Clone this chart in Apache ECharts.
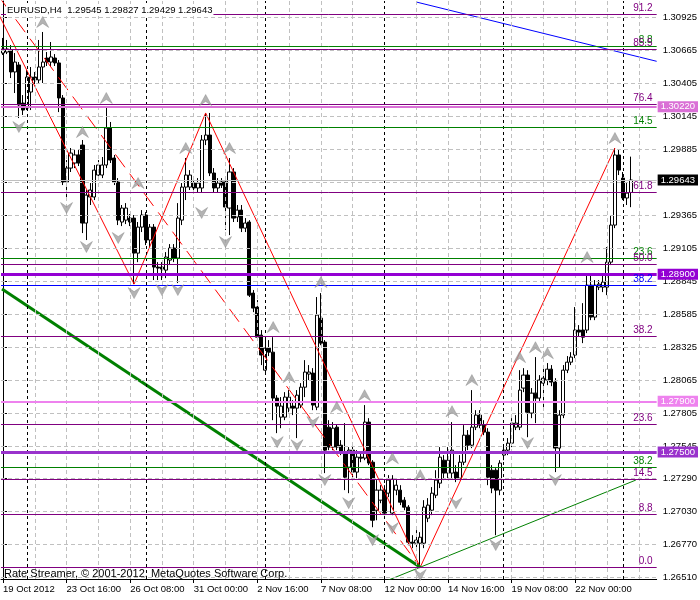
<!DOCTYPE html>
<html><head><meta charset="utf-8">
<script src="https://cdn.jsdelivr.net/npm/echarts@6/dist/echarts.min.js"></script>
<style>html,body{margin:0;padding:0;background:#fff}#c{width:700px;height:600px}</style>
</head><body><div id="c"></div>
<script>
const symbolName = 'EURUSD', timeframe = 'H4';
const open = [1.30643,1.30651,1.30667,1.30494,1.30549,1.30249,1.30210,1.30336,1.30454,1.30431,
1.30533,1.30604,1.30572,1.30604,1.30565,1.30289,1.29627,1.29737,1.29777,1.29840,
1.29918,1.29304,1.29509,1.29509,1.29682,1.29682,1.29761,1.30052,1.29816,1.29627,
1.29312,1.29327,1.29343,1.29343,1.29067,1.29272,1.29367,1.29170,1.29272,1.28957,
1.28957,1.28933,1.29012,1.29107,1.29028,1.29327,1.29587,1.29587,1.29619,1.29580,
1.29580,1.29958,1.29997,1.29698,1.29580,1.29627,1.29627,1.29422,1.29706,1.29351,
1.29406,1.29264,1.29312,1.28752,1.28642,1.28421,1.28145,1.28319,1.28287,1.27925,
1.27775,1.27775,1.27846,1.27862,1.27846,1.27870,1.28011,1.28114,1.28122,1.27854,
1.28555,1.28366,1.27696,1.27539,1.27696,1.27554,1.27499,1.27381,1.27515,1.27342,
1.27460,1.27452,1.27736,1.27420,1.27042,1.27121,1.27200,1.27176,1.27019,1.27200,
1.27200,1.27121,1.27066,1.26790,1.26782,1.26782,1.26782,1.26979,1.27042,1.27160,
1.27255,1.27436,1.27334,1.27334,1.27342,1.27294,1.27420,1.27633,1.27554,1.27696,
1.27791,1.27712,1.27657,1.27357,1.27357,1.27200,1.27476,1.27515,1.27570,1.27696,
1.27696,1.28004,1.28106,1.27807,1.27964,1.27925,1.28043,1.28067,1.28153,1.28051,
1.27531,1.27791,1.28145,1.28208,1.28264,1.28461,1.28461,1.28461,1.28815,1.28563,
1.28799,1.28799,1.28799,1.28996,1.29288,1.29840,1.29658,1.29501,1.29545];
const close = [1.30675,1.30675,1.30494,1.30572,1.30234,1.30194,1.30454,1.30454,1.30431,1.30533,
1.30572,1.30572,1.30612,1.30565,1.30289,1.29627,1.29737,1.29855,1.29840,1.29777,
1.29304,1.29524,1.29564,1.29721,1.29761,1.29761,1.30052,1.29800,1.29627,1.29327,
1.29422,1.29422,1.29312,1.29067,1.29272,1.29367,1.29170,1.29272,1.28957,1.28949,
1.28941,1.29036,1.29107,1.29028,1.29343,1.29587,1.29682,1.29682,1.29580,1.29619,
1.29958,1.29997,1.29698,1.29580,1.29619,1.29603,1.29430,1.29706,1.29343,1.29406,
1.29264,1.29304,1.28736,1.28634,1.28405,1.28264,1.28319,1.28287,1.27925,1.27862,
1.27862,1.27933,1.27933,1.27846,1.27948,1.28011,1.28130,1.28130,1.27870,1.28579,
1.28358,1.27515,1.27539,1.27688,1.27539,1.27499,1.27302,1.27515,1.27342,1.27460,
1.27452,1.27736,1.27413,1.26963,1.27200,1.27200,1.27019,1.27279,1.27286,1.27239,
1.27105,1.27066,1.26790,1.26782,1.26806,1.26829,1.27066,1.27082,1.27176,1.27279,
1.27460,1.27334,1.27436,1.27515,1.27294,1.27420,1.27633,1.27554,1.27696,1.27791,
1.27712,1.27657,1.27302,1.27216,1.27200,1.27413,1.27515,1.27570,1.27728,1.27728,
1.27988,1.28106,1.27814,1.27964,1.27925,1.28067,1.28082,1.28153,1.28051,1.27531,
1.27791,1.28145,1.28208,1.28248,1.28461,1.28445,1.28405,1.28815,1.28563,1.28815,
1.28823,1.28839,1.28996,1.29288,1.29840,1.29721,1.29501,1.29540,1.29643];
const high = [1.30762,1.30746,1.30706,1.30643,1.30572,1.30312,1.30509,1.30533,1.30494,1.30746,
1.30809,1.30651,1.30730,1.30635,1.30588,1.30312,1.29800,1.29895,1.29879,1.29879,
1.29958,1.29564,1.29619,1.29761,1.29800,1.29824,1.30210,1.30100,1.29840,1.29658,
1.29446,1.29461,1.29375,1.29367,1.29312,1.29406,1.29390,1.29296,1.29296,1.28996,
1.28996,1.29075,1.29138,1.29138,1.29461,1.29619,1.29816,1.29721,1.29643,1.29658,
1.29997,1.30171,1.30171,1.29737,1.29658,1.29658,1.29658,1.29816,1.29737,1.29446,
1.29446,1.29343,1.29327,1.28776,1.28697,1.28461,1.28405,1.28382,1.28405,1.27948,
1.27933,1.27972,1.27988,1.27909,1.27988,1.28043,1.28224,1.28185,1.28161,1.28721,
1.28752,1.28382,1.27751,1.27736,1.27720,1.27594,1.27728,1.27539,1.27554,1.27515,
1.27499,1.27870,1.27767,1.27436,1.27279,1.27239,1.27239,1.27318,1.27318,1.27294,
1.27239,1.27145,1.27082,1.26845,1.26885,1.26869,1.27121,1.27137,1.27224,1.27357,
1.27539,1.27476,1.27539,1.27736,1.27397,1.27476,1.27712,1.27673,1.27988,1.27830,
1.27830,1.27751,1.27688,1.27397,1.27373,1.27436,1.27554,1.27610,1.27767,1.27791,
1.28145,1.28161,1.28145,1.28004,1.28248,1.28106,1.28185,1.28201,1.28185,1.28082,
1.27830,1.28185,1.28256,1.28287,1.28642,1.28500,1.28673,1.28894,1.28910,1.28855,
1.28855,1.28910,1.29115,1.29367,1.29895,1.29879,1.29706,1.29619,1.29827];
const low = [1.30628,1.30635,1.30446,1.30328,1.30131,1.30155,1.30194,1.30194,1.30399,1.30407,
1.30407,1.30541,1.30533,1.30541,1.30178,1.29603,1.29485,1.29706,1.29737,1.29753,
1.29225,1.29170,1.29446,1.29485,1.29658,1.29658,1.29737,1.29777,1.29603,1.29288,
1.29280,1.29296,1.29280,1.28823,1.28996,1.29233,1.29130,1.29115,1.28855,1.28855,
1.28855,1.28870,1.28973,1.28996,1.28831,1.29288,1.29485,1.29564,1.29548,1.29548,
1.29548,1.29918,1.29674,1.29548,1.29548,1.29580,1.29249,1.29209,1.29312,1.29312,
1.29233,1.29233,1.28721,1.28602,1.28382,1.28185,1.28130,1.28256,1.27751,1.27649,
1.27688,1.27751,1.27814,1.27791,1.27610,1.27846,1.27933,1.28067,1.27830,1.27830,
1.28342,1.27334,1.27515,1.27515,1.27515,1.27476,1.27200,1.27176,1.27279,1.27294,
1.27420,1.27436,1.27397,1.26908,1.26963,1.27097,1.27003,1.27145,1.27003,1.27160,
1.27082,1.27042,1.26766,1.26743,1.26727,1.26593,1.26743,1.26948,1.27003,1.27137,
1.27216,1.27279,1.27294,1.27294,1.27263,1.27279,1.27397,1.27515,1.27531,1.27673,
1.27688,1.27633,1.27239,1.27176,1.26845,1.27160,1.27436,1.27476,1.27539,1.27673,
1.27673,1.27972,1.27617,1.27767,1.27728,1.27893,1.27830,1.28027,1.28019,1.27342,
1.27381,1.27767,1.28122,1.28185,1.28240,1.28413,1.28358,1.28437,1.28539,1.28539,
1.28776,1.28760,1.28736,1.28973,1.29264,1.29682,1.29485,1.29446,1.29429];

const slotCount = 165;
const xLabelIdx = [0,16,32,48,64,80,96,112,128,144];
const xLabelText = ['19 Oct 2012','23 Oct 16:00','26 Oct 08:00','31 Oct 00:00','2 Nov 16:00','7 Nov 08:00','12 Nov 00:00','14 Nov 16:00','19 Nov 08:00','22 Nov 00:00'];
const yTicks = [1.30925,1.30665,1.30405,1.30145,1.29885,1.29625,1.29365,1.29105,1.28845,1.28585,1.28325,1.28065,1.27805,1.27545,1.27290,1.27030,1.26770,1.26510];
const gridIdx = [8,16,24,32,40,48,56,64,72,80,88,104,112,120,128,136,144,152,160];
const weekIdx = [6,36,66,96,126,156];

const zigzagIdx = [-1,33,51,105,154];
const zigzagVal = [1.30943,1.28823,1.30171,1.26593,1.29895];
const dashIdx = [-0.4,105];
const dashVal = [1.31061,1.26593];
const blueIdx = [104,164.5];
const blueVal = [1.31045,1.30578];
const greenThickIdx = [-0.25,105];
const greenThickVal = [1.28784,1.26593];
const greenThinIdx = [96,159.25];
const greenThinVal = [1.26479,1.27279];

const fracUpIdx = [10,20,26,34,46,51,57,68,72,80,84,91,98,105,113,118,130,134,137,147,154];
const fracUpVal = [1.30888,1.30021,1.30289,1.29619,1.29895,1.30273,1.29895,1.28485,1.28090,1.28839,1.27854,1.27948,1.27452,1.27318,1.27822,1.28067,1.28248,1.28326,1.28279,1.29036,1.29974];
const fracDnIdx = [4,16,21,29,33,40,44,50,56,69,74,78,81,87,93,98,105,114,124,132,139];
const fracDnVal = [1.30060,1.29422,1.29115,1.29186,1.28752,1.28776,1.28776,1.29383,1.29154,1.27578,1.27554,1.27736,1.27279,1.27097,1.26806,1.26901,1.26532,1.27097,1.26767,1.27570,1.27279];

const purpleLevels = [1.30949,1.30675,1.30240,1.29546,1.28982,1.28412,1.27719,1.27282,1.27010,1.26594];
const purpleLabels = ['91.2','85.5','76.4','61.8','50.0','38.2','23.6','14.5','8.8','0.0'];
const greenLevels = [1.30700,1.30058,1.29026,1.27380];
const greenLabels = ['8.8','14.5','23.6','38.2'];
const blueLevels = [1.28814];
const blueLabels = ['38.2'];
const priceLines = [1.30220,1.28900,1.27900,1.27500];
const priceLineColors = ['#DA70D6','#9400D3','#EE82EE','#9932CC'];
const priceLineWidths = [2,3,2,3];
const bidPrice = close[close.length-1];

const FONT = 'Liberation Sans';
const cats = Array.from({length: slotCount}, (_, i) => String(i));
const candleData = open.map((o, i) => [o, close[i], low[i], high[i]]);
const pts = (a, b) => a.map((x, k) => [x, b[k]]);

const fibLabel = (color) => ({show: true, position: 'insideEndTop', formatter: '{b}', color, fontSize: 10, fontFamily: FONT, distance: [4, 1]});
const levelData = [];
greenLevels.forEach((v, k) => levelData.push({yAxis: v, name: greenLabels[k], lineStyle: {color: '#008000', width: 1, type: 'solid'}, label: fibLabel('#008000')}));
blueLevels.forEach((v, k) => levelData.push({yAxis: v, name: blueLabels[k], lineStyle: {color: '#0000FF', width: 1, type: 'solid'}, label: fibLabel('#0000FF')}));
purpleLevels.forEach((v, k) => levelData.push({yAxis: v, name: purpleLabels[k], lineStyle: {color: '#800080', width: 1, type: 'solid'}, label: fibLabel('#800080')}));
priceLines.forEach((v, k) => levelData.push({yAxis: v, name: v.toFixed(5), lineStyle: {color: priceLineColors[k], width: priceLineWidths[k], type: 'solid'}, label: {show: true, position: 'end', formatter: '{b}', color: '#fff', backgroundColor: priceLineColors[k], padding: [1, 3, 0, 3], fontSize: 9.5, lineHeight: 10, fontFamily: FONT, distance: 1}}));
levelData.push({yAxis: bidPrice, name: bidPrice.toFixed(5), lineStyle: {color: '#C0C0C0', width: 1, type: 'solid'}, label: {show: true, position: 'end', formatter: '{b}', color: '#fff', backgroundColor: '#000', padding: [1, 3, 0, 3], fontSize: 9.5, lineHeight: 10, fontFamily: FONT, distance: 1}});

const gridLines = [];
yTicks.forEach(v => gridLines.push({yAxis: v, lineStyle: {color: '#C0C0C0', type: [4, 3], width: 1}}));
gridIdx.forEach(i => gridLines.push({xAxis: i, lineStyle: {color: '#C0C0C0', type: [4, 3], width: 1}}));
weekIdx.forEach(i => gridLines.push({xAxis: i, lineStyle: {color: '#000', type: [3, 3], width: 1}}));

const upArrow = 'path://M6,0 L12,11 L6,7 L0,11 Z';
const dnArrow = 'path://M0,0 L6,4 L12,0 L6,11 Z';

const lineSeries = (data, color, width, type, z) => ({
  type: 'line', xAxisIndex: 1, yAxisIndex: 0, data, symbol: 'none', silent: true,
  lineStyle: {color, width, type}, z, animation: false
});

const chart = echarts.init(document.getElementById('c'), null, {renderer: 'canvas'});
chart.setOption({
  animation: false,
  backgroundColor: '#fff',
  grid: {left: 1, right: 39, top: 1, bottom: 21},
  xAxis: [{
    type: 'category', data: cats, boundaryGap: true,
    axisLine: {lineStyle: {color: '#000'}},
    axisTick: {show: true, alignWithLabel: true, interval: (i) => xLabelIdx.includes(i), length: 4, lineStyle: {color: '#000'}},
    axisLabel: {interval: (i) => xLabelIdx.includes(i), formatter: (v, i) => xLabelText[xLabelIdx.indexOf(+v)], align: 'left', margin: 5, color: '#000', fontFamily: FONT, fontSize: 9.5},
    splitLine: {show: false}
  }, {
    type: 'value', min: -0.5, max: slotCount - 0.5, show: false
  }],
  yAxis: [{
    type: 'value', position: 'right', min: 1.26500, max: 1.31053, scale: true,
    axisLine: {show: true, lineStyle: {color: '#000'}},
    axisTick: {show: true, customValues: yTicks, length: 4, lineStyle: {color: '#000'}},
    axisLabel: {customValues: yTicks, formatter: (v) => v.toFixed(5), margin: 6, color: '#000', fontFamily: FONT, fontSize: 9.5},
    splitLine: {show: false}
  }],
  series: [
    {type: 'line', xAxisIndex: 1, yAxisIndex: 0, data: [[-10, 1.28]], symbol: 'none', lineStyle: {width: 0}, z: 1, silent: true,
     markLine: {silent: true, precision: 6, symbol: ['none', 'none'], animation: false, label: {show: false}, data: gridLines}},
    {type: 'line', xAxisIndex: 1, yAxisIndex: 0, data: [[-10, 1.28]], symbol: 'none', lineStyle: {width: 0}, z: 2, silent: true,
     markLine: {silent: true, precision: 6, symbol: ['none', 'none'], animation: false, data: levelData}},
    {type: 'candlestick', xAxisIndex: 0, yAxisIndex: 0, data: candleData, barWidth: 3.6, z: 3, silent: true,
     itemStyle: {color: '#fff', color0: '#000', borderColor: '#000', borderColor0: '#000', borderWidth: 1}},
    lineSeries(pts(zigzagIdx, zigzagVal), '#FF0000', 1, 'solid', 4),
    lineSeries(pts(dashIdx, dashVal), '#FF0000', 1, [16, 8], 4),
    lineSeries(pts(blueIdx, blueVal), '#0000FF', 1, 'solid', 4),
    lineSeries(pts(greenThickIdx, greenThickVal), '#008000', 3, 'solid', 4),
    lineSeries(pts(greenThinIdx, greenThinVal), '#008000', 1, 'solid', 4),
    {type: 'scatter', xAxisIndex: 1, yAxisIndex: 0, data: pts(fracUpIdx, fracUpVal), symbol: upArrow, symbolSize: [12, 11], itemStyle: {color: '#A0A0A0', borderColor: '#808080', borderWidth: 0.5}, z: 5, silent: true},
    {type: 'scatter', xAxisIndex: 1, yAxisIndex: 0, data: pts(fracDnIdx, fracDnVal), symbol: dnArrow, symbolSize: [12, 11], itemStyle: {color: '#A0A0A0', borderColor: '#808080', borderWidth: 0.5}, z: 5, silent: true}
  ],
  graphic: [
    {type: 'text', left: 6, top: 4, z: 100, style: {text: symbolName + ',' + timeframe + '  ' + [open, high, low, close].map(a => a[a.length - 1].toFixed(5)).join(' '), fill: '#000', font: '9.5px "Liberation Sans"', backgroundColor: '#fff', padding: [1, 1, 1, 1]}},
    {type: 'text', left: 4, top: 568, z: 100, style: {text: 'Rate Streamer, \u00A9 2001-2012, MetaQuotes Software Corp.', fill: '#000', font: '11px "Liberation Sans"'}}
  ]
});
</script></body></html>
